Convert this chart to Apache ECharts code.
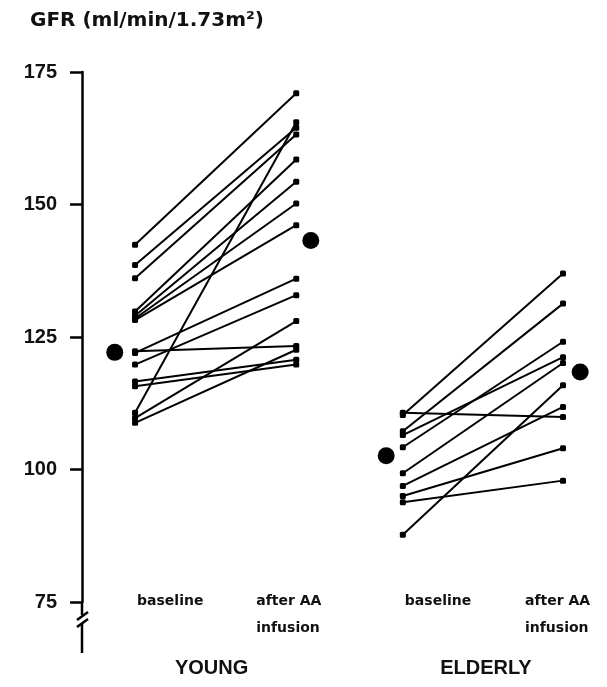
<!DOCTYPE html>
<html>
<head>
<meta charset="utf-8">
<script src="https://cdn.jsdelivr.net/npm/echarts@6/dist/echarts.min.js"></script>
<style>
  html, body { margin: 0; padding: 0; background: #fff; }
  #chart { width: 607px; height: 687px; }
</style>
</head>
<body>
<div id="chart"></div>
<script>
// GFR (ml/min/1.73m²) per subject, baseline and after amino-acid infusion
const youngBaseline = [142.4, 138.6, 136.1, 129.8, 129.0, 128.5, 128.2, 122.3, 122.0, 119.8, 116.6, 115.7, 110.7, 109.7, 108.8];
const youngAfter    = [171.0, 164.5, 163.2, 158.5, 154.3, 150.2, 146.1, 123.3, 136.0, 132.9, 120.7, 119.8, 165.5, 128.0, 122.6];
const elderlyBaseline = [110.7, 110.3, 107.2, 106.5, 104.2, 99.3, 96.9, 95.0, 93.8, 87.7];
const elderlyAfter    = [109.9, 137.0, 131.3, 121.2, 124.1, 120.1, 111.8, 104.0, 97.9, 115.9];
// group means (large dots)
const youngMeans   = [122.1, 143.2];
const elderlyMeans = [102.6, 118.4];
// axis
const yTicks = [75, 100, 125, 150, 175];
const groupNames = ['YOUNG', 'ELDERLY'];
const phaseNames = ['baseline', 'after AA\ninfusion'];

// horizontal layout of the columns (x-axis units, 0..10)
const colX = {
  youngBase: 1.02, youngAfter: 4.12, elderlyBase: 6.17, elderlyAfter: 9.25,
  youngBaseMean: 0.63, youngAfterMean: 4.40, elderlyBaseMean: 5.85, elderlyAfterMean: 9.58
};

const FONT = 'DejaVu Sans';
const chart = echarts.init(document.getElementById('chart'), null, { renderer: 'canvas' });

const series = [];
function pairSeries(base, after, x0, x1) {
  base.forEach((b, i) => {
    series.push({
      type: 'line',
      data: [[x0, b], [x1, after[i]]],
      symbol: 'roundRect',
      symbolSize: 6,
      showSymbol: true,
      lineStyle: { color: '#000', width: 2 },
      itemStyle: { color: '#000', opacity: 1 },
      silent: true,
      animation: false,
      z: 2
    });
  });
}
pairSeries(youngBaseline, youngAfter, colX.youngBase, colX.youngAfter);
pairSeries(elderlyBaseline, elderlyAfter, colX.elderlyBase, colX.elderlyAfter);

series.push({
  type: 'scatter',
  data: [
    [colX.youngBaseMean, youngMeans[0]],
    [colX.youngAfterMean, youngMeans[1]],
    [colX.elderlyBaseMean, elderlyMeans[0]],
    [colX.elderlyAfterMean, elderlyMeans[1]]
  ],
  symbol: 'circle',
  symbolSize: 17,
  itemStyle: { color: '#000', opacity: 1 },
  silent: true,
  animation: false,
  z: 3
});

const yMin = yTicks[0], yMax = yTicks[yTicks.length - 1];

chart.setOption({
  backgroundColor: '#fff',
  animation: false,
  grid: { left: 82, right: 5, top: 72, bottom: 85, containLabel: false },
  xAxis: {
    type: 'value', min: 0, max: 10, show: false
  },
  yAxis: {
    type: 'value', min: yMin, max: yMax, interval: 25,
    axisLine: { show: true, lineStyle: { color: '#000', width: 2.5 } },
    axisTick: { show: true, inside: false, length: 12, lineStyle: { color: '#000', width: 2.5 } },
    splitLine: { show: false },
    axisLabel: { color: '#111', fontSize: 20, fontWeight: 'bold', fontFamily: 'Liberation Sans', margin: 25 }
  },
  series: series
});

// decorations positioned from the axis scales
function px(x, y) { return chart.convertToPixel({ gridIndex: 0 }, [x, y]); }
const axisBottom = px(0, yMin);
const ax = axisBottom[0], ay = axisBottom[1];

const graphics = [
  // y-axis title
  { type: 'text', left: 30, top: 11, style: { text: 'GFR (ml/min/1.73m²)', fill: '#111', font: 'bold 20px "' + FONT + '"' } },
  // axis continuation below the lowest tick with a break mark
  { type: 'polyline', shape: { points: [[ax, ay], [ax, ay + 13]] }, style: { stroke: '#000', lineWidth: 2.5, fill: null } },
  { type: 'line', shape: { x1: ax + 6, y1: ay + 10, x2: ax - 5, y2: ay + 18 }, style: { stroke: '#000', lineWidth: 2.5 } },
  { type: 'line', shape: { x1: ax + 6, y1: ay + 17, x2: ax - 5, y2: ay + 25 }, style: { stroke: '#000', lineWidth: 2.5 } },
  { type: 'polyline', shape: { points: [[ax, ay + 22], [ax, ay + 51]] }, style: { stroke: '#000', lineWidth: 2.5, fill: null } }
];

// phase labels under each column
const phaseCols = [
  [colX.youngBase, 0], [colX.youngAfter, 1], [colX.elderlyBase, 0], [colX.elderlyAfter, 1]
];
const phaseOffsets = [2, -40, 2, -38];
phaseCols.forEach((c, i) => {
  const p = px(c[0], yMin);
  graphics.push({
    type: 'text', x: p[0] + phaseOffsets[i], y: ay - 14,
    style: { text: phaseNames[c[1]], fill: '#111', font: 'bold 14px "' + FONT + '"', lineHeight: 27, textAlign: 'left', textVerticalAlign: 'top' }
  });
});

// group labels
const groupCenters = [(colX.youngBase + colX.youngAfter) / 2, (colX.elderlyBase + colX.elderlyAfter) / 2];
groupCenters.forEach((gx, i) => {
  const p = px(gx, yMin);
  graphics.push({
    type: 'text', x: p[0] + (i === 0 ? -4 : 3), y: ay + 56,
    style: { text: groupNames[i], fill: '#111', font: 'bold 20px "Liberation Sans"', textAlign: 'center', textVerticalAlign: 'top' }
  });
});

chart.setOption({ graphic: graphics });
</script>
</body>
</html>
